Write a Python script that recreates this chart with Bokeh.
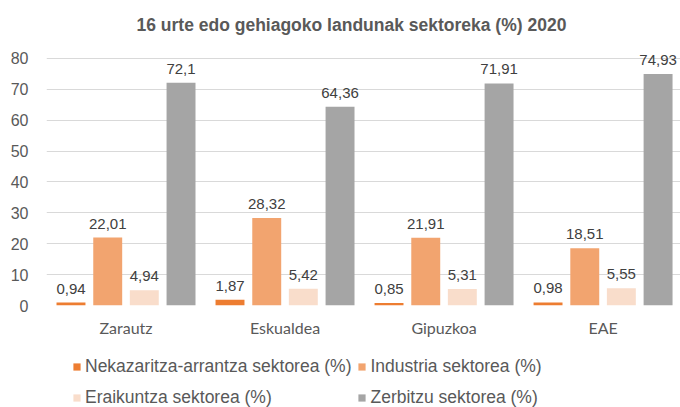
from bokeh.plotting import figure
from bokeh.models import Range1d, FixedTicker, Legend, LegendItem, ColumnDataSource, Title
from bokeh.layouts import column
from bokeh.core.properties import value
from bokeh.embed import file_html
from bokeh.resources import INLINE

categories = ["Zarautz", "Eskualdea", "Gipuzkoa", "EAE"]
series_names = ["Nekazaritza-arrantza sektorea (%)", "Industria sektorea (%)",
                "Eraikuntza sektorea (%)", "Zerbitzu sektorea (%)"]
nekazaritza = [0.94, 1.87, 0.85, 0.98]
industria = [22.01, 28.32, 21.91, 18.51]
eraikuntza = [4.94, 5.42, 5.31, 5.55]
zerbitzu = [72.1, 64.36, 71.91, 74.93]
colors = ["#ED7D31", "#F2A46F", "#F9DDCB", "#A5A5A5"]
y_ticks = [0, 10, 20, 30, 40, 50, 60, 70, 80]

series = [nekazaritza, industria, eraikuntza, zerbitzu]
offsets = [-0.346, -0.115, 0.115, 0.346]
bar_w = 0.182

p = figure(width=680, height=340, output_backend="svg", toolbar_location=None,
           x_range=Range1d(0, 3.987), y_range=Range1d(0, 84.2),
           min_border_left=46, min_border_right=0, min_border_top=45, min_border_bottom=35)
p.title = Title(text="16 urte edo gehiagoko landunak sektoreka (%) 2020", align="left",
                text_font="Liberation Sans", text_font_size="17.5px", text_font_style="bold",
                text_color="#595959", standoff=21, offset=90)

p.outline_line_color = None
p.xgrid.grid_line_color = None
p.ygrid.grid_line_color = "#D9D9D9"
p.ygrid.grid_line_width = 1

p.yaxis.ticker = FixedTicker(ticks=y_ticks)
p.yaxis.axis_line_color = None
p.yaxis.major_tick_line_color = None
p.yaxis.minor_tick_line_color = None
p.yaxis.major_label_text_font = "Liberation Sans"
p.yaxis.major_label_text_font_size = "16px"
p.yaxis.major_label_text_color = "#595959"
p.yaxis.major_label_standoff = 12

p.xaxis.ticker = FixedTicker(ticks=[i + 0.5 for i in range(len(categories))])
p.xaxis.major_label_overrides = {i + 0.5: c for i, c in enumerate(categories)}
p.xaxis.axis_line_color = None
p.xaxis.major_tick_line_color = None
p.xaxis.minor_tick_line_color = None
p.xaxis.major_tick_out = 0
p.xaxis.major_label_text_font = "Lato"
p.xaxis.major_label_text_font_size = "16px"
p.xaxis.major_label_text_color = "#595959"
p.xaxis.major_label_standoff = 12

for s, vals, col, off in zip(series_names, series, colors, offsets):
    xs = [i + 0.5 + off for i in range(len(categories))]
    labels = [f"{v:g}".replace(".", ",") for v in vals]
    src = ColumnDataSource(dict(x=xs, top=vals, lab=labels))
    p.vbar(x="x", top="top", width=bar_w, bottom=0, source=src,
           fill_color=col, line_color=None)
    p.text(x="x", y="top", text="lab", source=src, text_align="center",
           text_baseline="alphabetic", y_offset=-14, text_font=value("Liberation Sans"),
           text_font_size="15px", text_color="#404040")

# legend figure
lg = figure(width=680, height=67, output_backend="svg", toolbar_location=None,
            x_range=Range1d(0, 1), y_range=Range1d(0, 1),
            min_border=0, outline_line_color=None)
lg.axis.visible = False
lg.grid.visible = False
items = []
for s, col in zip(series_names, colors):
    r = lg.vbar(x=[2], top=[2], bottom=[1.5], width=0.1, fill_color=col, line_color=None)
    items.append(LegendItem(label=s, renderers=[r]))

legend = Legend(items=items, location=(26, -3), orientation="horizontal", ncols=2,
                padding=0, margin=0, spacing=6, label_standoff=4,
                glyph_width=9, glyph_height=9, label_height=25,
                label_text_font="Liberation Sans", label_text_font_size="17.5px",
                label_text_color="#595959", border_line_color=None,
                background_fill_alpha=0)
lg.add_layout(legend, "center")

layout = column(p, lg, spacing=0)
open("out.html", "w").write(file_html(layout, INLINE))
